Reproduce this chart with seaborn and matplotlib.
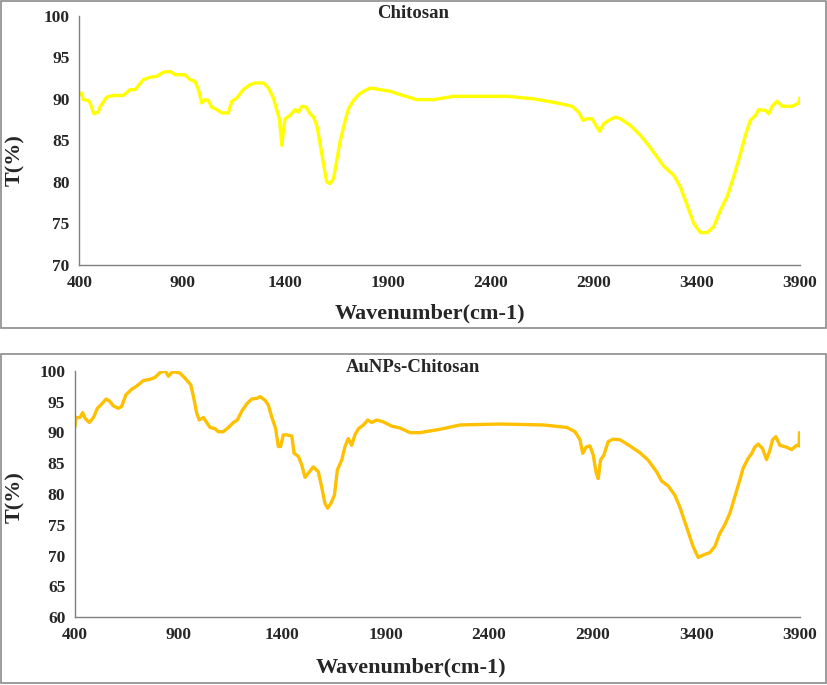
import matplotlib
matplotlib.use("Agg")
import matplotlib.pyplot as plt
import numpy as np
import pandas as pd
import seaborn as sns
from matplotlib.patches import Rectangle

# Chitosan spectrum
chitosan_wn = [400, 411, 419, 444, 452, 471, 492, 500, 533, 565, 614, 646, 671, 711, 744, 776,
               808, 841, 865, 889, 914, 938, 962, 979, 995, 1011, 1027, 1043, 1068, 1092, 1124,
               1141, 1165, 1197, 1230, 1254, 1295, 1319, 1343, 1360, 1372, 1384, 1392, 1400,
               1424, 1449, 1465, 1481, 1502, 1521, 1538, 1554, 1570, 1586, 1602, 1619, 1635,
               1651, 1668, 1692, 1708, 1732, 1757, 1781, 1813, 1862, 1911, 1959, 2040, 2121,
               2218, 2397, 2478, 2607, 2721, 2794, 2826, 2847, 2867, 2891, 2915, 2928, 2948,
               2972, 3004, 3029, 3077, 3126, 3166, 3207, 3239, 3288, 3320, 3353, 3385, 3418,
               3450, 3482, 3515, 3547, 3579, 3612, 3636, 3660, 3685, 3701, 3733, 3750, 3766,
               3790, 3815, 3863, 3896, 3900]
chitosan_t = [90.5, 90.7, 89.9, 89.8, 89.5, 88.2, 88.4, 89.0, 90.2, 90.4, 90.4, 91.1, 91.1, 92.3,
              92.6, 92.7, 93.2, 93.3, 92.9, 92.9, 92.9, 92.3, 92.1, 91.1, 89.5, 89.9, 89.8,
              89.0, 88.7, 88.3, 88.3, 89.7, 90.1, 91.1, 91.7, 91.9, 91.9, 91.3, 90.1, 88.6,
              87.6, 84.4, 86.2, 87.6, 88.0, 88.7, 88.4, 89.1, 89.0, 88.2, 87.8, 86.8, 84.6,
              82.2, 80.0, 79.8, 80.4, 82.6, 85.0, 87.4, 88.8, 89.8, 90.5, 90.9, 91.3, 91.1,
              90.9, 90.5, 89.9, 89.9, 90.3, 90.3, 90.3, 90.0, 89.5, 89.1, 88.4, 87.4, 87.6,
              87.6, 86.6, 86.1, 87.0, 87.4, 87.8, 87.6, 86.8, 85.6, 84.4, 83.0, 81.9, 80.8,
              79.4, 77.2, 75.0, 73.9, 73.9, 74.6, 76.6, 78.2, 80.6, 83.4, 85.6, 87.4, 88.0,
              88.7, 88.6, 88.2, 89.1, 89.7, 89.1, 89.1, 89.5, 90.1]

# AuNPs-Chitosan spectrum
aunps_wn = [400, 405, 424, 437, 448, 469, 489, 508, 529, 550, 566, 585, 609, 625, 646, 674, 698,
            730, 762, 786, 811, 835, 851, 867, 883, 907, 931, 959, 972, 988, 1000, 1020, 1036,
            1052, 1076, 1092, 1116, 1141, 1165, 1184, 1205, 1229, 1253, 1277, 1294, 1318,
            1334, 1350, 1369, 1382, 1393, 1406, 1422, 1447, 1458, 1479, 1495, 1511, 1532,
            1551, 1575, 1591, 1607, 1620, 1636, 1653, 1667, 1688, 1704, 1720, 1736, 1752,
            1769, 1793, 1814, 1833, 1857, 1889, 1930, 1970, 2018, 2066, 2163, 2260, 2453,
            2662, 2775, 2815, 2839, 2852, 2868, 2887, 2903, 2916, 2927, 2938, 2954, 2975,
            2999, 3032, 3080, 3128, 3168, 3209, 3233, 3265, 3297, 3321, 3353, 3385, 3410,
            3434, 3466, 3490, 3514, 3538, 3563, 3587, 3611, 3627, 3651, 3667, 3683, 3699,
            3720, 3740, 3756, 3769, 3785, 3804, 3836, 3861, 3885, 3897, 3899]
aunps_t = [90.9, 92.4, 92.4, 93.2, 92.3, 91.6, 92.4, 93.9, 94.6, 95.4, 95.1, 94.3, 93.9, 94.2,
           96.1, 97.0, 97.5, 98.4, 98.6, 98.9, 99.7, 100.0, 99.1, 99.7, 99.8, 99.6, 98.8,
           97.7, 95.8, 93.1, 92.0, 92.4, 91.6, 90.8, 90.6, 90.1, 90.1, 90.8, 91.6, 92.0,
           93.4, 94.6, 95.4, 95.5, 95.8, 95.2, 94.4, 92.5, 90.6, 87.7, 87.7, 89.6, 89.6,
           89.4, 86.6, 86.1, 84.7, 82.7, 83.6, 84.4, 83.6, 81.2, 78.5, 77.7, 78.5, 79.8,
           83.9, 85.5, 87.7, 89.0, 87.9, 89.6, 90.6, 91.2, 92.0, 91.6, 92.0, 91.7, 91.0,
           90.7, 89.95, 89.95, 90.5, 91.2, 91.35, 91.2, 90.8, 90.1, 88.8, 86.6, 87.6, 87.8,
           86.3, 83.6, 82.5, 85.5, 86.3, 88.5, 88.9, 88.8, 87.8, 86.7, 85.5, 83.6, 82.1,
           81.3, 79.8, 77.9, 74.7, 71.5, 69.7, 70.1, 70.5, 71.5, 73.6, 75.0, 76.9, 79.6,
           82.3, 84.2, 85.8, 86.5, 87.6, 88.1, 87.4, 85.6, 87.1, 88.8, 89.3, 87.9, 87.6,
           87.2, 87.9, 87.8, 89.95]

x_ticks = [400, 900, 1400, 1900, 2400, 2900, 3400, 3900]
top_yticks = [70, 75, 80, 85, 90, 95, 100]
bottom_yticks = [60, 65, 70, 75, 80, 85, 90, 95, 100]

sns.set_theme(style="white")
plt.rcParams["font.family"] = ["Liberation Serif", "DejaVu Serif"]
plt.rcParams["font.weight"] = "bold"

W, H = 827, 685
fig = plt.figure(figsize=(W / 100, H / 100), dpi=100)


def px_axes(left, top, right, bottom):
    return fig.add_axes([left / W, 1 - bottom / H, (right - left) / W, (bottom - top) / H])


def style_axis(ax, yticks):
    ax.set_xlim(400, 3900)
    ax.set_ylim(yticks[0], yticks[-1])
    ax.set_xticks(x_ticks)
    ax.set_yticks(yticks)
    ax.set_xlabel("")
    ax.set_ylabel("")
    for side in ["top", "right"]:
        ax.spines[side].set_visible(False)
    for side in ["left", "bottom"]:
        ax.spines[side].set_color("#7f7f7f")
        ax.spines[side].set_linewidth(1.0)
    ax.tick_params(axis="both", direction="out", length=4, width=1, color="#7f7f7f",
                   labelsize=12.5, pad=3)
    for lab in ax.get_xticklabels() + ax.get_yticklabels():
        lab.set_fontweight("bold")
    ax.set_facecolor("white")


# panel borders
fig.patches.append(Rectangle((0.5 / W, 1 - 328 / H), 825 / W, 327.5 / H, transform=fig.transFigure,
                             fill=False, edgecolor="#8c8c8c", linewidth=1.2))
fig.patches.append(Rectangle((0.5 / W, 1 - 683 / H), 825 / W, 329 / H, transform=fig.transFigure,
                             fill=False, edgecolor="#8c8c8c", linewidth=1.2))

df_top = pd.DataFrame({"wavenumber": chitosan_wn, "T": chitosan_t})
ax1 = px_axes(79.3, 15.7, 799.7, 265)
sns.lineplot(data=df_top, x="wavenumber", y="T", ax=ax1, color="#FFFF00", linewidth=2.4)
style_axis(ax1, top_yticks)

df_bot = pd.DataFrame({"wavenumber": aunps_wn, "T": aunps_t})
ax2 = px_axes(75, 370.7, 799.7, 617.3)
sns.lineplot(data=df_bot, x="wavenumber", y="T", ax=ax2, color="#FFC000", linewidth=2.4)
style_axis(ax2, bottom_yticks)

# titles and axis labels
fig.text(413 / W, 1 - 13 / H, "Chitosan", ha="center", va="center", fontsize=13.5, fontweight="bold")
fig.text(413 / W, 1 - 368 / H, "AuNPs-Chitosan", ha="center", va="center", fontsize=13.5, fontweight="bold")
fig.text(430 / W, 1 - 313 / H, "Wavenumber(cm-1)", ha="center", va="center", fontsize=16, fontweight="bold")
fig.text(411 / W, 1 - 667 / H, "Wavenumber(cm-1)", ha="center", va="center", fontsize=16, fontweight="bold")
fig.text(15 / W, 1 - 160 / H, "T(%)", ha="center", va="center", rotation=90, fontsize=16, fontweight="bold")
fig.text(15 / W, 1 - 497 / H, "T(%)", ha="center", va="center", rotation=90, fontsize=16, fontweight="bold")

fig.savefig("out.png", dpi=100, facecolor="white")
